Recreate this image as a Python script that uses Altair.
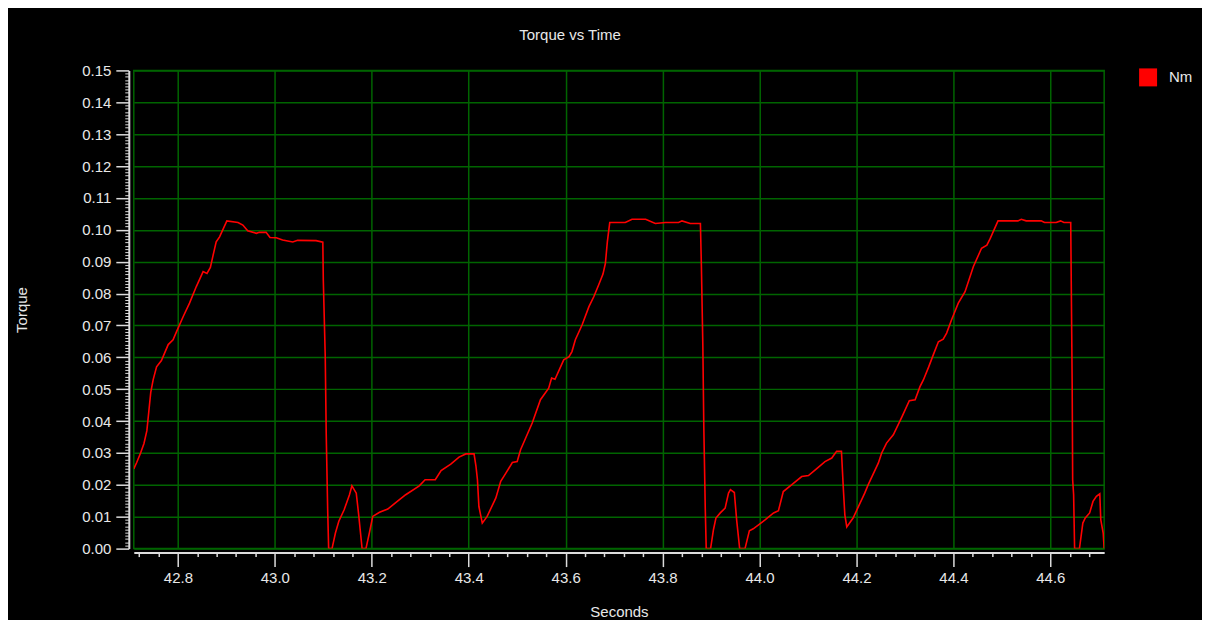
import altair as alt
import pandas as pd

# ---- data (seconds, torque in Nm) ----
time_s = [
    42.709, 42.715, 42.723, 42.730, 42.736, 42.740, 42.744, 42.749, 42.756, 42.766,
    42.780, 42.790, 42.797, 42.811, 42.824, 42.838, 42.852, 42.860, 42.867, 42.872,
    42.879, 42.886, 42.901, 42.924, 42.934, 42.944, 42.962, 42.968, 42.982, 42.990,
    43.003, 43.016, 43.037, 43.047, 43.085, 43.099, 43.100, 43.104, 43.106, 43.109,
    43.111, 43.118, 43.125, 43.132, 43.143, 43.154, 43.159, 43.168, 43.173, 43.180,
    43.188, 43.195, 43.202, 43.216, 43.233, 43.250, 43.270, 43.298, 43.310, 43.331,
    43.343, 43.363, 43.380, 43.394, 43.411, 43.415, 43.418, 43.421, 43.428, 43.438,
    43.456, 43.466, 43.476, 43.490, 43.500, 43.507, 43.531, 43.548, 43.565, 43.571,
    43.578, 43.596, 43.607, 43.613, 43.620, 43.634, 43.648, 43.658, 43.668, 43.677,
    43.682, 43.686, 43.689, 43.691, 43.723, 43.737, 43.765, 43.785, 43.806, 43.833,
    43.840, 43.857, 43.878, 43.880, 43.883, 43.885, 43.888, 43.890, 43.899, 43.905,
    43.910, 43.919, 43.929, 43.936, 43.940, 43.948, 43.953, 43.959, 43.970, 43.979,
    43.987, 44.012, 44.029, 44.039, 44.049, 44.066, 44.087, 44.101, 44.115, 44.135,
    44.149, 44.159, 44.169, 44.173, 44.176, 44.180, 44.193, 44.217, 44.224, 44.245,
    44.252, 44.262, 44.276, 44.294, 44.309, 44.321, 44.331, 44.338, 44.349, 44.359,
    44.369, 44.379, 44.386, 44.396, 44.410, 44.424, 44.441, 44.458, 44.469, 44.476,
    44.492, 44.533, 44.540, 44.550, 44.581, 44.588, 44.612, 44.621, 44.628, 44.642,
    44.643, 44.645, 44.646, 44.648, 44.650, 44.660, 44.667, 44.672, 44.681, 44.688,
    44.695, 44.702, 44.704, 44.709, 44.711,
]
torque_nm = [
    0.0250, 0.0270, 0.0300, 0.0330, 0.0370, 0.0430, 0.0490, 0.0530, 0.0570, 0.0590,
    0.0640, 0.0655, 0.0680, 0.0728, 0.0770, 0.0822, 0.0869, 0.0863, 0.0882, 0.0916,
    0.0962, 0.0978, 0.1028, 0.1023, 0.1015, 0.0997, 0.0989, 0.0992, 0.0992, 0.0976,
    0.0975, 0.0968, 0.0962, 0.0967, 0.0966, 0.0961, 0.0842, 0.0602, 0.0362, 0.0122,
    0.0000, 0.0000, 0.0049, 0.0086, 0.0122, 0.0169, 0.0197, 0.0174, 0.0106, 0.0000,
    0.0000, 0.0049, 0.0101, 0.0114, 0.0124, 0.0145, 0.0169, 0.0197, 0.0216, 0.0216,
    0.0245, 0.0265, 0.0287, 0.0297, 0.0297, 0.0258, 0.0216, 0.0132, 0.0080, 0.0101,
    0.0159, 0.0211, 0.0235, 0.0270, 0.0273, 0.0310, 0.0394, 0.0467, 0.0503, 0.0535,
    0.0531, 0.0592, 0.0602, 0.0618, 0.0655, 0.0702, 0.0759, 0.0790, 0.0827, 0.0861,
    0.0895, 0.0962, 0.0999, 0.1023, 0.1023, 0.1033, 0.1033, 0.1020, 0.1023, 0.1023,
    0.1028, 0.1020, 0.1020, 0.0889, 0.0639, 0.0383, 0.0127, 0.0000, 0.0000, 0.0060,
    0.0096, 0.0112, 0.0127, 0.0174, 0.0185, 0.0176, 0.0086, 0.0000, 0.0000, 0.0056,
    0.0062, 0.0091, 0.0112, 0.0119, 0.0179, 0.0200, 0.0226, 0.0229, 0.0247, 0.0273,
    0.0284, 0.0305, 0.0305, 0.0185, 0.0106, 0.0068, 0.0096, 0.0174, 0.0200, 0.0268,
    0.0300, 0.0331, 0.0357, 0.0414, 0.0464, 0.0467, 0.0508, 0.0529, 0.0570, 0.0610,
    0.0649, 0.0657, 0.0676, 0.0717, 0.0770, 0.0806, 0.0884, 0.0942, 0.0952, 0.0973,
    0.1028, 0.1028, 0.1033, 0.1028, 0.1028, 0.1023, 0.1023, 0.1028, 0.1023, 0.1023,
    0.0853, 0.0514, 0.0216, 0.0169, 0.0000, 0.0000, 0.0080, 0.0096, 0.0112, 0.0148,
    0.0164, 0.0172, 0.0091, 0.0049, 0.0000,
]
series_name = "Nm"

x_domain = [42.709, 44.711]
y_domain = [0.0, 0.15]
x_major = [42.8, 43.0, 43.2, 43.4, 43.6, 43.8, 44.0, 44.2, 44.4, 44.6]
y_major = [round(0.01 * i, 2) for i in range(16)]
x_minor = [round(42.72 + 0.04 * i, 2) for i in range(50)]
x_minor = [v for v in x_minor if all(abs(v - m) > 1e-6 for m in x_major)]
y_minor = [round(0.001 * i, 3) for i in range(151) if i % 10 != 0]

FONT = "Liberation Sans"
TXT = "#e8e8e8"
AX = "#dcdcdc"
GRID = "#006400"

df = pd.DataFrame({"Seconds": time_s, "Torque": torque_nm,
                   "series": [series_name] * len(time_s)})

xscale = alt.Scale(domain=x_domain, nice=False, zero=False)
yscale = alt.Scale(domain=y_domain, nice=False, zero=False)

line = alt.Chart(df).mark_line(strokeWidth=1.6, clip=True).encode(
    x=alt.X("Seconds:Q", scale=xscale, axis=alt.Axis(
        values=x_major, format=".1f", grid=True, gridColor=GRID, gridWidth=1.5,
        gridOpacity=1, tickSize=14, tickWidth=1.5, tickColor=AX, domainColor=AX,
        domainWidth=2, offset=4, labelPadding=4, labelFont=FONT, labelFontSize=15,
        labelColor=TXT, title="Seconds", titleFont=FONT, titleFontSize=15,
        titleFontWeight="normal", titleColor=TXT, titleY=59,
        titleBaseline="middle", labelFlush=False, labelOverlap=False)),
    y=alt.Y("Torque:Q", scale=yscale, axis=alt.Axis(
        values=y_major, format=".2f", grid=True, gridColor=GRID, gridWidth=1.5,
        gridOpacity=1, tickSize=13, tickWidth=1.5, tickColor=AX, domainColor=AX,
        domainWidth=2, offset=5, labelPadding=5, labelFont=FONT, labelFontSize=15,
        labelColor=TXT, title="Torque", titleFont=FONT, titleFontSize=15,
        titleFontWeight="normal", titleColor=TXT, titleX=-107,
        titleY=239.5, titleAngle=-90, titleAlign="center",
        titleBaseline="middle", labelFlush=False, labelOverlap=False)),
    color=alt.Color("series:N",
                    scale=alt.Scale(domain=[series_name], range=["#ff0000"]),
                    legend=alt.Legend(
                        title=None, orient="none", legendX=1007, legendY=-2,
                        symbolType="square", symbolSize=324,
                        symbolFillColor="#ff0000", symbolStrokeWidth=0,
                        labelFont=FONT, labelFontSize=15, labelColor=TXT,
                        labelOffset=12)),
)

minor = alt.Chart(df).mark_line(opacity=0).encode(
    x=alt.X("Seconds:Q", scale=xscale, axis=alt.Axis(
        values=x_minor, orient="bottom", labels=False, grid=False, domain=False,
        tickSize=4, tickWidth=1.5, tickColor=AX, offset=4, title="")),
    y=alt.Y("Torque:Q", scale=yscale, axis=alt.Axis(
        values=y_minor, orient="left", labels=False, grid=False, domain=False,
        tickSize=4, tickWidth=1, tickColor=AX, offset=5, title="")),
)

chart = alt.layer(line, minor).resolve_axis(
    x="independent", y="independent"
).properties(
    width=972, height=479,
    title=alt.TitleParams("Torque vs Time", font=FONT, fontSize=15,
                          fontWeight="normal", color=TXT, anchor="middle",
                          dx=-49, offset=20),
    background="#000000",
    padding={"left": 126, "top": 62, "right": 98, "bottom": 71},
    autosize=alt.AutoSizeParams(type="none"),
).configure_view(stroke=GRID, strokeWidth=1.5)

chart.save("out.html", embed_options={"renderer": "svg", "actions": False})
